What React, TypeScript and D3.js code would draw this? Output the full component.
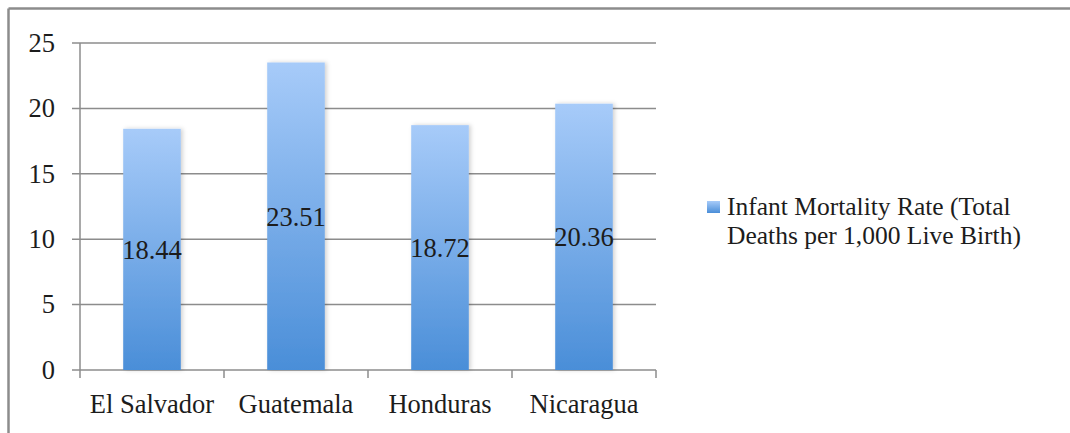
import React from "react";
import * as d3 from "d3";

// Infant mortality rate (total deaths per 1,000 live births) by country
const countries: string[] = ["El Salvador", "Guatemala", "Honduras", "Nicaragua"];
const mortalityRates: number[] = [18.44, 23.51, 18.72, 20.36];
const yTicks: number[] = [0, 5, 10, 15, 20, 25];
const legendLines: string[] = ["Infant Mortality Rate (Total", "Deaths per 1,000 Live Birth)"];

const WIDTH = 1070;
const HEIGHT = 433;
const FONT = "'Liberation Serif', 'Times New Roman', serif";
const FONT_SIZE = 26.5;
const LEGEND_FONT_SIZE = 25.5;
const GRID = "#8c8c8c";
const INK = "#1c1c1c";

export default function App() {
  const plot = { left: 80, right: 656, top: 43, bottom: 370 };

  const x = d3
    .scaleBand<string>()
    .domain(countries)
    .range([plot.left, plot.right])
    .paddingInner(0.6)
    .paddingOuter(0.3);

  const y = d3.scaleLinear().domain([0, 25]).range([plot.bottom, plot.top]);

  const step = x.step();
  // category boundary ticks along the x axis
  const boundaries = d3.range(countries.length + 1).map((i) => plot.left + i * step);

  return (
    <svg
      width={WIDTH}
      height={HEIGHT}
      style={{ position: "absolute", left: 0, top: 0, display: "block" }}
      fontFamily={FONT}
    >
      <defs>
        <linearGradient id="barFill" x1="0" y1="0" x2="0" y2="1">
          <stop offset="0%" stopColor="#a7cbf9" />
          <stop offset="100%" stopColor="#4a8ed8" />
        </linearGradient>
        <linearGradient id="keyFill" x1="0" y1="0" x2="0" y2="1">
          <stop offset="0%" stopColor="#a7cbf9" />
          <stop offset="100%" stopColor="#4a8ed8" />
        </linearGradient>
        <filter id="barShadow" x="-20%" y="-5%" width="140%" height="110%">
          <feDropShadow dx="2" dy="0" stdDeviation="2" floodColor="#000" floodOpacity="0.18" />
        </filter>
      </defs>

      <rect x={0} y={0} width={WIDTH} height={HEIGHT} fill="#ffffff" />

      {/* chart frame */}
      <line x1={8.5} x2={WIDTH} y1={8.5} y2={8.5} stroke={GRID} strokeWidth={2.5} />
      <line x1={8.5} x2={8.5} y1={8.5} y2={HEIGHT} stroke={GRID} strokeWidth={2.5} />

      {/* horizontal gridlines and y ticks */}
      {yTicks.map((t) => (
        <g key={t}>
          <line
            x1={plot.left - 8}
            x2={plot.right}
            y1={y(t)}
            y2={y(t)}
            stroke={GRID}
            strokeWidth={1.5}
          />
          <text
            x={55}
            y={y(t)}
            dy="0.33em"
            textAnchor="end"
            fontSize={FONT_SIZE}
            fill={INK}
          >
            {t}
          </text>
        </g>
      ))}

      {/* y axis line */}
      <line
        x1={plot.left}
        x2={plot.left}
        y1={plot.top}
        y2={plot.bottom + 8}
        stroke={GRID}
        strokeWidth={1.5}
      />

      {/* x axis category ticks */}
      {boundaries.slice(1).map((bx, i) => (
        <line
          key={i}
          x1={bx}
          x2={bx}
          y1={plot.bottom}
          y2={plot.bottom + 8}
          stroke={GRID}
          strokeWidth={1.5}
        />
      ))}

      {/* bars */}
      {countries.map((c, i) => (
        <rect
          key={c}
          x={x(c)}
          y={y(mortalityRates[i])}
          width={x.bandwidth()}
          height={y(0) - y(mortalityRates[i])}
          fill="url(#barFill)"
          filter="url(#barShadow)"
        />
      ))}

      {/* value labels centred inside bars */}
      {countries.map((c, i) => (
        <text
          key={c}
          x={(x(c) as number) + x.bandwidth() / 2}
          y={y(mortalityRates[i] / 2)}
          dy="0.35em"
          textAnchor="middle"
          fontSize={FONT_SIZE}
          fill={INK}
        >
          {mortalityRates[i].toFixed(2)}
        </text>
      ))}

      {/* category labels */}
      {countries.map((c) => (
        <text
          key={c}
          x={(x(c) as number) + x.bandwidth() / 2}
          y={413}
          textAnchor="middle"
          fontSize={FONT_SIZE}
          fill={INK}
        >
          {c}
        </text>
      ))}

      {/* legend */}
      <rect x={707} y={201} width={13} height={12} fill="url(#keyFill)" />
      {legendLines.map((line, i) => (
        <text key={i} x={727} y={215 + i * 28.5} fontSize={LEGEND_FONT_SIZE} fill={INK}>
          {line}
        </text>
      ))}
    </svg>
  );
}
